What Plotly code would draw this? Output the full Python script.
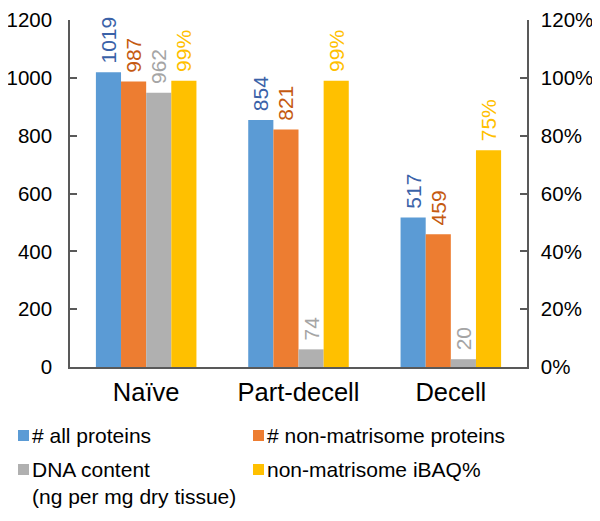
import plotly.graph_objects as go

categories = ["Naïve", "Part-decell", "Decell"]
all_proteins = [1019, 854, 517]
non_matrisome = [987, 821, 459]
dna_labels = [962, 74, 20]
dna_bar_heights = [948, 61, 27]
ibaq_pct = [0.99, 0.99, 0.75]

left_ticks = [0, 200, 400, 600, 800, 1000, 1200]
right_ticks = [0, 0.2, 0.4, 0.6, 0.8, 1.0, 1.2]

legend_names = ["# all proteins", "# non-matrisome proteins",
                "DNA content<br>(ng per mg dry tissue)", "non-matrisome iBAQ%"]

FONT = "Liberation Sans, Arial, sans-serif"
C_BLUE, C_ORANGE, C_GRAY, C_YELLOW = "#5B9BD5", "#ED7D31", "#B0B0B0", "#FFC000"
T_BLUE, T_ORANGE, T_GRAY, T_YELLOW = "#3A62A8", "#C55A11", "#A5A5A5", "#FFC000"

W, H = 600, 521
OFF = 8  # page body offset
# target screen positions of plot area: x 70..527, y ~20..367
L, T = 70 - OFF, 12
PW = 457
PH = 367 - OFF - T
R = W - L - PW
B = H - T - PH

PAD = "\u00a0"  # small gap between bar top and its label

fig = go.Figure()

def bar(y, text, color, tcolor, og, yaxis="y"):
    return go.Bar(
        x=categories, y=y, text=[PAD + t for t in text], textposition="outside",
        textangle=-90,
        textfont=dict(family=FONT, size=21, color=tcolor), constraintext="none",
        cliponaxis=False, marker=dict(color=color, line=dict(width=0)),
        offsetgroup=og, yaxis=yaxis, showlegend=False, hoverinfo="skip")

fig.add_trace(bar(all_proteins, [str(v) for v in all_proteins], C_BLUE, T_BLUE, "1"))
fig.add_trace(bar(non_matrisome, [str(v) for v in non_matrisome], C_ORANGE, T_ORANGE, "2"))
fig.add_trace(bar(dna_bar_heights, [str(v) for v in dna_labels], C_GRAY, T_GRAY, "3"))
fig.add_trace(bar(ibaq_pct, [f"{round(v*100)}%" for v in ibaq_pct], C_YELLOW, T_YELLOW, "4", "y2"))

axis_common = dict(showline=True, linecolor="#595959", linewidth=1.5, ticks="inside",
                   ticklen=7, tickcolor="#595959", tickwidth=1.5, showgrid=False,
                   zeroline=False, ticklabeloverflow="allow",
                   tickfont=dict(family=FONT, size=20.5, color="#000000"))

def px_x(x): return (x - OFF - L) / PW
def px_y(y): return (T + PH - (y - OFF)) / PH

legend_pos = [(18, 436), (253, 436), (18, 470), (253, 470)]
legend_cols = [C_BLUE, C_ORANGE, C_GRAY, C_YELLOW]
shapes, annots = [], []
for (lx, ly), name, col in zip(legend_pos, legend_names, legend_cols):
    shapes.append(dict(type="rect", xref="paper", yref="paper",
                       x0=px_x(lx), x1=px_x(lx + 11), y0=px_y(ly + 5), y1=px_y(ly - 6),
                       fillcolor=col, line=dict(width=0)))
    annots.append(dict(xref="paper", yref="paper", x=px_x(lx + 12), y=px_y(ly - 14),
                       xanchor="left", yanchor="top", align="left", showarrow=False,
                       text=name, font=dict(family=FONT, size=21, color="#000000")))

fig.update_layout(
    width=W, height=H,
    margin=dict(l=L, r=R, t=T, b=B, autoexpand=False),
    paper_bgcolor="white", plot_bgcolor="white",
    barmode="group", bargap=0.34, bargroupgap=0,
    font=dict(family=FONT, size=20, color="#000000"),
    xaxis=dict(showline=True, linecolor="#595959", linewidth=1.5, ticks="",
               ticklabelstandoff=2,
               tickfont=dict(family=FONT, size=25.5, color="#000000")),
    yaxis=dict(range=[0, 1200], tickvals=left_ticks, ticklabelstandoff=12, **axis_common),
    yaxis2=dict(range=[0, 1.2], tickvals=right_ticks, tickformat=".0%",
                ticklabelstandoff=8,
                overlaying="y", side="right", **axis_common),
    showlegend=False,
    shapes=shapes, annotations=annots,
)

fig.write_html("out.html")
